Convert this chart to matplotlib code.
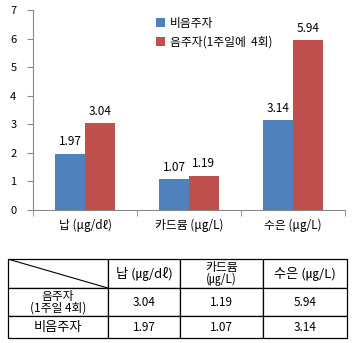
import numpy as np
import matplotlib.pyplot as plt
from matplotlib.lines import Line2D

plt.rcParams['font.family'] = ['Noto Sans CJK KR', 'DejaVu Sans']

# data
categories = ['납 (μg/dℓ)', '카드뮴 (μg/L)', '수은 (μg/L)']
non_drinkers = [1.97, 1.07, 3.14]
drinkers = [3.04, 1.19, 5.94]
series_names = ['비음주자', '음주자(1주일에  4회)']

table_cols = ['납 (㎍/dℓ)', '카드뮴\n(㎍/L)', '수은 (㎍/L)']
table_rows = ['음주자\n(1주일 4회)', '비음주자']

blue = '#4F81BD'
red = '#C0504D'

fig = plt.figure(figsize=(3.55, 3.43), dpi=100)
ax = fig.add_axes([0.093, 0.388, 0.879, 0.583])

x = np.arange(len(categories))
w = 0.285
b1 = ax.bar(x - w / 2, non_drinkers, w, color=blue, label=series_names[0])
b2 = ax.bar(x + w / 2, drinkers, w, color=red, label=series_names[1])
ax.bar_label(b1, labels=[f'{v:.2f}' for v in non_drinkers], padding=4, fontsize=8.5)
ax.bar_label(b2, labels=[f'{v:.2f}' for v in drinkers], padding=4, fontsize=8.5)

ax.set_xlim(-0.5, len(categories) - 0.5)
ax.set_ylim(0, 7)
ax.set_yticks(range(0, 8))
ax.set_xticks(x)
ax.set_xticklabels(categories, fontsize=8.5)
ax.tick_params(axis='x', length=0, pad=6)
ax.set_xticks(np.arange(-0.5, len(categories)), minor=True)
ax.tick_params(axis='x', which='minor', length=4, direction='out', color='#888888')
ax.tick_params(axis='y', labelsize=8, length=4, color='#888888', pad=8)
for s in ['top', 'right']:
    ax.spines[s].set_visible(False)
for s in ['left', 'bottom']:
    ax.spines[s].set_color('#888888')
    ax.spines[s].set_linewidth(0.8)

ax.legend(loc='upper left', bbox_to_anchor=(0.36, 1.02), frameon=False,
          fontsize=8.5, handlelength=0.8, handleheight=0.8, handletextpad=0.4,
          labelspacing=0.5)

# table below the chart
tax = fig.add_axes([0.0225, 0.0146, 0.955, 0.230])
tax.axis('off')
cell_text = [[''] + table_cols,
             [table_rows[0]] + [f'{v:.2f}' for v in drinkers],
             [table_rows[1]] + [f'{v:.2f}' for v in non_drinkers]]
col_w = [100, 72, 83, 84]
row_h = [29, 28, 22]
tbl = tax.table(cellText=cell_text, colWidths=[c / sum(col_w) for c in col_w],
                cellLoc='center', bbox=[0, 0, 1, 1])
tbl.auto_set_font_size(False)
for (r, c), cell in tbl.get_celld().items():
    cell.set_height(row_h[r] / sum(row_h))
    cell.set_linewidth(0.9)
    txt = cell.get_text()
    if '\n' in txt.get_text():
        txt.set_fontsize(8.5)
        txt.set_linespacing(0.85)
    elif r == 0 or c == 0:
        txt.set_fontsize(9.5)
    else:
        txt.set_fontsize(8.5)

# diagonal line in the corner cell
x0, x1 = 0, col_w[0] / sum(col_w)
y1 = 1.0
y0 = 1.0 - row_h[0] / sum(row_h)
tax.add_line(Line2D([x0, x1], [y1, y0], color='black', lw=0.8,
                    transform=tax.transAxes))

plt.savefig('out.png', dpi=100)
